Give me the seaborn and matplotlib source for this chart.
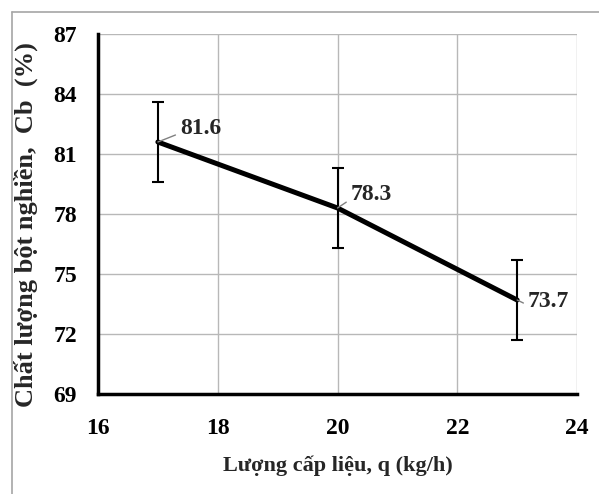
import matplotlib
matplotlib.use('Agg')
import matplotlib.pyplot as plt
import seaborn as sns
import pandas as pd

# Data
feed_rate = [17, 20, 23]
quality = [81.6, 78.3, 73.7]
error = [2.0, 2.0, 2.0]
labels = ['81.6', '78.3', '73.7']
label_pos = [(17.37, 82.25), (20.22, 78.95), (23.18, 73.65)]

x_ticks = [16, 18, 20, 22, 24]
y_ticks = [69, 72, 75, 78, 81, 84, 87]

df = pd.DataFrame({'q': feed_rate, 'Cb': quality})

sns.set_style('white')
plt.rcParams['font.family'] = ['Liberation Serif', 'DejaVu Serif']
plt.rcParams['font.weight'] = 'bold'

fig = plt.figure(figsize=(5.99, 4.94), dpi=100)
ax = fig.add_axes([0.1636, 0.2024, 0.7997, 0.7288])

# outer chart frame (left and top edges visible)
fig.add_artist(plt.Line2D([12 / 599, 12 / 599], [0, 1 - 12 / 494], transform=fig.transFigure,
                          color='#a6a6a6', lw=1.2))
fig.add_artist(plt.Line2D([12 / 599, 1], [1 - 12 / 494, 1 - 12 / 494], transform=fig.transFigure,
                          color='#a6a6a6', lw=1.2))

ax.errorbar(feed_rate, quality, yerr=error, fmt='none', ecolor='black',
            elinewidth=1.5, capsize=4, capthick=1.5, zorder=3)
sns.lineplot(data=df, x='q', y='Cb', color='black', linewidth=3.6, ax=ax, zorder=4)

for (x, y), txt, (tx, ty) in zip(zip(feed_rate, quality), labels, label_pos):
    ax.annotate(txt, xy=(x, y), xytext=(tx, ty), fontsize=17, fontweight='bold',
                va='center', ha='left',
                arrowprops=dict(arrowstyle='-', color='#808080', lw=1,
                                shrinkA=1, shrinkB=0, relpos=(0, 0.3)),
                zorder=5)

ax.set_xlim(16, 24)
ax.set_ylim(69, 87)
ax.set_xticks(x_ticks)
ax.set_yticks(y_ticks)
ax.grid(True, color='#b8b8b8', linewidth=1)
ax.set_axisbelow(True)

for side in ['top', 'right']:
    ax.spines[side].set_visible(False)
for side in ['left', 'bottom']:
    ax.spines[side].set_color('black')
    ax.spines[side].set_linewidth(2.5)

ax.tick_params(axis='both', direction='in', length=5, width=2, colors='black',
               labelsize=17)
ax.tick_params(axis='y', pad=15)
ax.tick_params(axis='x', pad=17)

ax.set_xlabel('Lượng cấp liệu, q (kg/h)', fontsize=16, fontweight='bold', labelpad=12)
ax.set_ylabel('Chất lượng bột nghiền,  Cb  (%)', fontsize=19, fontweight='bold')
ax.yaxis.set_label_coords(-0.125, 0.47)

fig.savefig('out.png', dpi=100)
